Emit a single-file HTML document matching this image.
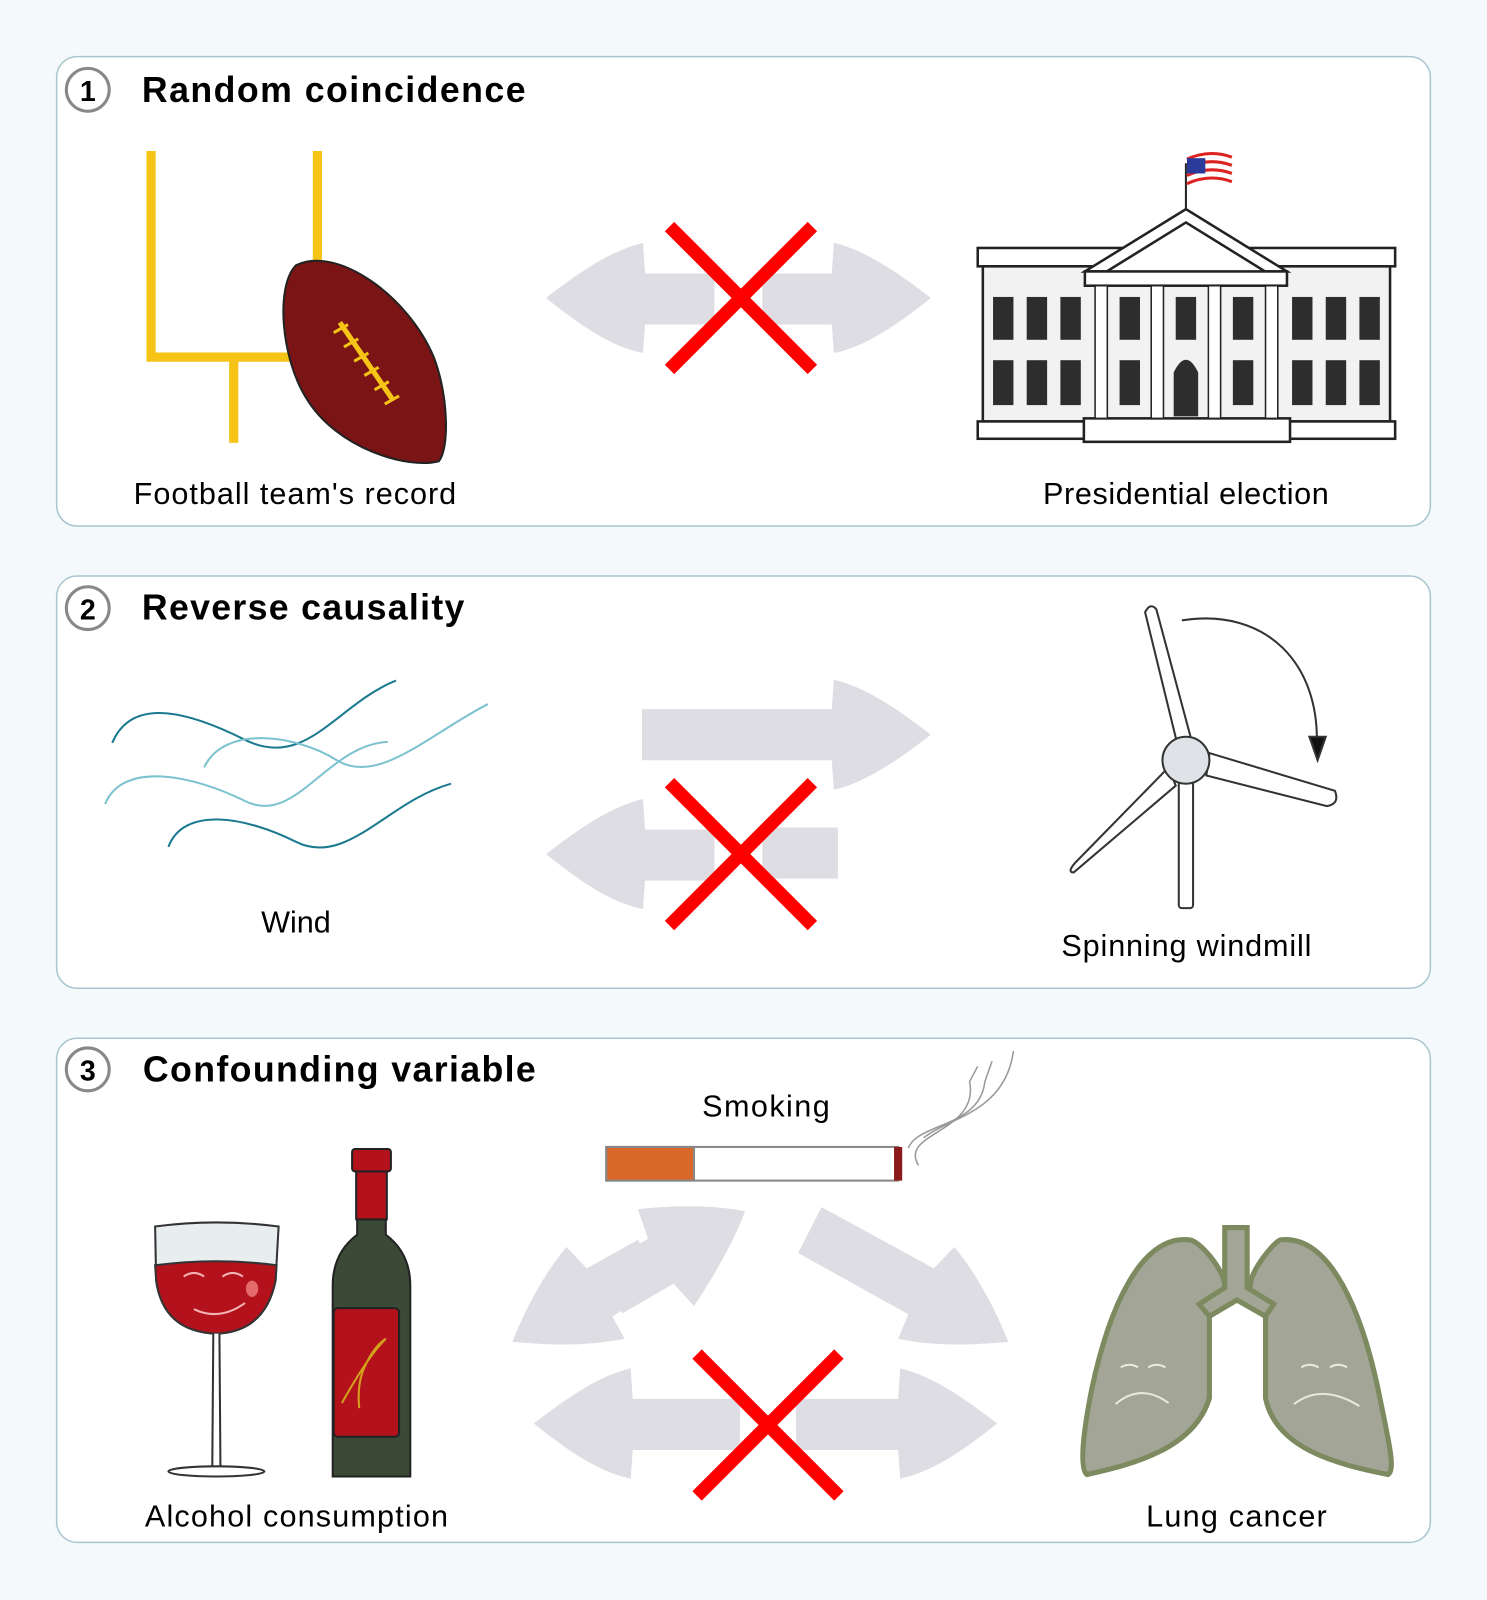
<!DOCTYPE html>
<html><head><meta charset="utf-8"><style>
html,body{margin:0;padding:0;background:#f4f9fc;}
svg{display:block;}
text{font-family:"Liberation Sans",sans-serif;}
</style></head><body>
<svg width="1487" height="1600" viewBox="0 0 1457 1568" preserveAspectRatio="none">
<rect x="0" y="0" width="1457" height="1568" fill="#f4f9fc"/>
<defs>
<g id="arrowL"><path d="M535,292 C570,265 600,245 630,238 L632,268 L700,268 L700,318 L632,318 L630,346 C600,340 570,320 535,292 Z" fill="#dedde3"/></g>
<g id="arrowR"><path d="M912,292 C877,265 847,245 817,238 L815,268 L747,268 L747,318 L815,318 L817,346 C847,340 877,320 912,292 Z" fill="#dedde3"/></g>
</defs>

<!-- Panel 1 -->
<g>
<rect x="55.5" y="55.5" width="1346" height="460" rx="20" fill="#fff" stroke="#a9c6cf" stroke-width="1.5"/>
<circle cx="86" cy="88" r="21" fill="none" stroke="#888" stroke-width="3"/>
<text x="86" y="99" font-size="28" font-weight="bold" text-anchor="middle">1</text>
<text x="139" y="100" font-size="35" font-weight="bold" textLength="376">Random coincidence</text>
<g stroke="#f6c417" stroke-width="9" fill="none">
<path d="M148,148 L148,350 L311,350 L311,148"/><path d="M229,350 L229,434"/></g>
<g>
<path d="M290,260 C330,240 400,290 425,350 C440,390 440,440 430,452 C400,460 330,440 300,390 C275,350 270,280 290,260 Z" fill="#7b1414" stroke="#222" stroke-width="2"/>
<path d="M333,316 L385,392" stroke="#f6c417" stroke-width="5"/>
<g stroke="#f6c417" stroke-width="3"><path d="M327,326 L341,318"/><path d="M337,340 L351,332"/><path d="M347,354 L361,346"/><path d="M357,368 L371,360"/><path d="M367,382 L381,374"/><path d="M377,396 L391,388"/></g></g>
<text x="131" y="494" font-size="30" textLength="316">Football team's record</text>
<g><use href="#arrowL"/><use href="#arrowR"/>
<path d="M656,222 L796,362 M796,222 L656,362" stroke="#f00" stroke-width="13"/></g>
<g stroke="#222" stroke-width="2.5">
<rect x="958" y="243" width="409" height="18" fill="#fff"/>
<rect x="963" y="261" width="399" height="152" fill="#f2f2f2"/>
<rect x="958" y="413" width="409" height="17" fill="#fff"/>
<rect x="1062" y="410" width="202" height="23" fill="#fff"/>
<path d="M1063,266 L1162,205 L1261,266 Z" fill="#fff"/>
<path d="M1078,270 L1162,218 L1246,270 Z" fill="#fff"/>
<rect x="1063" y="266" width="198" height="14" fill="#fff"/>
<path d="M1162,205 L1162,160" stroke-width="2"/>
<g fill="#2d2d2d" stroke="none">
<rect x="973" y="291" width="20" height="42"/><rect x="1006" y="291" width="20" height="42"/><rect x="1039" y="291" width="20" height="42"/>
<rect x="973" y="353" width="20" height="44"/><rect x="1006" y="353" width="20" height="44"/><rect x="1039" y="353" width="20" height="44"/>
<rect x="1097" y="291" width="20" height="42"/><rect x="1152" y="291" width="20" height="42"/><rect x="1208" y="291" width="20" height="42"/>
<rect x="1097" y="353" width="20" height="44"/><rect x="1208" y="353" width="20" height="44"/>
<path d="M1150,408 L1150,365 Q1162,340 1174,365 L1174,408 Z"/>
<rect x="1266" y="291" width="20" height="42"/><rect x="1299" y="291" width="20" height="42"/><rect x="1332" y="291" width="20" height="42"/>
<rect x="1266" y="353" width="20" height="44"/><rect x="1299" y="353" width="20" height="44"/><rect x="1332" y="353" width="20" height="44"/></g>
<g fill="#fff" stroke-width="1.5"><rect x="1073" y="280" width="12" height="130"/><rect x="1128" y="280" width="12" height="130"/><rect x="1184" y="280" width="12" height="130"/><rect x="1240" y="280" width="12" height="130"/></g>
<g stroke="none"><rect x="1163" y="150" width="44" height="32" fill="#fff"/>
<path d="M1163,156 Q1185,146 1207,154 M1163,164 Q1185,154 1207,162 M1163,172 Q1185,162 1207,170 M1163,180 Q1185,170 1207,178" stroke="#d22" stroke-width="3" fill="none"/>
<rect x="1163" y="155" width="18" height="15" fill="#2a3a9a"/></g></g>
<text x="1022" y="494" font-size="30" textLength="280">Presidential election</text>
</g>

<!-- Panel 2 -->
<g>
<rect x="55.5" y="564.5" width="1346" height="404" rx="20" fill="#fff" stroke="#a9c6cf" stroke-width="1.5"/>
<circle cx="86" cy="596" r="21" fill="none" stroke="#888" stroke-width="3"/>
<text x="86" y="607" font-size="28" font-weight="bold" text-anchor="middle">2</text>
<text x="139" y="607" font-size="35" font-weight="bold" textLength="316">Reverse causality</text>
<g fill="none" stroke-width="2">
<path d="M110,728 C130,680 190,700 240,725 C300,755 330,690 388,667" stroke="#1b7a90"/>
<path d="M200,752 C220,710 290,720 330,745 C370,770 420,720 478,690" stroke="#7cc2cf"/>
<path d="M103,788 C120,745 190,760 240,785 C290,810 320,730 380,727" stroke="#7cc2cf"/>
<path d="M165,830 C180,790 240,800 290,825 C340,850 380,785 442,768" stroke="#1b7a90"/></g>
<text x="290" y="914" font-size="30" text-anchor="middle">Wind</text>
<g>
<path d="M912,720 C877,693 847,673 817,666 L815,695 L629,695 L629,745 L815,745 L817,774 C847,767 877,747 912,720 Z" fill="#dedde3"/>
<use href="#arrowL" transform="translate(0,545)"/>
<path d="M747,811 L821,811 L821,861 L747,861 Z" fill="#dedde3"/>
<path d="M656,767 L796,907 M796,767 L656,907" stroke="#f00" stroke-width="13"/></g>
<g stroke="#333" stroke-width="2" fill="#fff">
<rect x="1155" y="760" width="14" height="130" rx="3"/>
<path d="M1155,735 L1122,600 Q1127,590 1133,597 L1170,735 Z"/>
<path d="M1185,738 L1308,775 Q1313,788 1300,790 L1182,760 Z"/>
<path d="M1145,752 L1054,845 Q1045,855 1052,855 L1152,770 Z"/>
<circle cx="1162" cy="745" r="23" fill="#dfe3e8"/>
<path d="M1158,608 C1240,595 1295,650 1290,735" fill="none"/>
<path d="M1283,722 L1291,745 L1299,722 Z" fill="#111"/></g>
<text x="1040" y="937" font-size="30" textLength="245">Spinning windmill</text>
</g>

<!-- Panel 3 -->
<g>
<rect x="55.5" y="1017.5" width="1346" height="494" rx="20" fill="#fff" stroke="#a9c6cf" stroke-width="1.5"/>
<circle cx="86" cy="1048" r="21" fill="none" stroke="#888" stroke-width="3"/>
<text x="86" y="1059" font-size="28" font-weight="bold" text-anchor="middle">3</text>
<text x="140" y="1060" font-size="35" font-weight="bold" textLength="385">Confounding variable</text>
<text x="688" y="1094" font-size="30" textLength="125">Smoking</text>
<g>
<rect x="594" y="1124" width="286" height="33" fill="#fff" stroke="#888" stroke-width="2"/>
<rect x="594" y="1124" width="86" height="33" fill="#d9672a" stroke="#888" stroke-width="2"/>
<rect x="876" y="1124" width="8" height="33" fill="#8b1a1a"/>
<g fill="none" stroke="#999" stroke-width="1.5"><path d="M900,1142 C880,1110 960,1110 950,1060 L958,1045"/><path d="M890,1125 C900,1100 960,1105 965,1060 L972,1040"/><path d="M905,1115 C930,1095 985,1090 993,1030"/></g></g>
<g>
<path d="M502,1315 C520,1270 540,1240 555,1222 L575,1243 L625,1215 L650,1260 L600,1290 L612,1312 C570,1320 540,1318 502,1315 Z" fill="#dedde3"/>
<path d="M625,1185 C670,1180 705,1182 730,1187 C720,1215 700,1250 680,1280 L660,1258 L610,1287 L585,1242 L635,1214 Z" fill="#dedde3"/>
<path d="M988,1315 C970,1270 950,1240 935,1222 L915,1243 L805,1183 L782,1228 L890,1288 L880,1312 C920,1320 950,1318 988,1315 Z" fill="#dedde3"/>
<use href="#arrowL" transform="translate(-12,1103)"/>
<use href="#arrowR" transform="translate(65,1103)"/>
<rect x="680" y="1371" width="45" height="50" fill="#dedde3"/>
<rect x="780" y="1371" width="35" height="50" fill="#dedde3"/>
<path d="M683,1327 L822,1466 M822,1327 L683,1466" stroke="#f00" stroke-width="13"/></g>
<g stroke="#333" stroke-width="2">
<path d="M152,1202 Q212,1194 273,1202 L270,1255 Q260,1305 212,1307 Q160,1305 153,1255 Z" fill="#e8eef0"/>
<path d="M152,1240 Q212,1232 271,1240 L270,1255 Q260,1305 212,1307 Q160,1305 153,1255 Z" fill="#b3121d"/>
<path d="M209,1307 L208,1438 L216,1438 L215,1307" fill="#fff"/>
<ellipse cx="212" cy="1442" rx="47" ry="5" fill="#fff"/>
<ellipse cx="247" cy="1263" rx="6" ry="8" fill="#e36b6b" stroke="none"/>
<path d="M180,1251 Q190,1244 200,1251 M218,1251 Q228,1244 238,1251 M190,1283 Q215,1295 240,1277" stroke="#f3b3b3" fill="none"/></g>
<g stroke="#222" stroke-width="2">
<path d="M350,1190 L350,1210 Q326,1228 326,1260 L326,1447 L402,1447 L402,1260 Q402,1228 378,1210 L378,1190 Z" fill="#3a4a37"/>
<rect x="349" y="1145" width="30" height="50" fill="#b3121d"/>
<rect x="345" y="1126" width="38" height="22" rx="3" fill="#b3121d"/>
<rect x="327" y="1282" width="64" height="126" rx="4" fill="#b3121d"/>
<path d="M335,1375 Q360,1330 378,1312 Q365,1320 355,1345 Q350,1360 352,1380" stroke="#d4a21a" fill="none"/></g>
<text x="142" y="1496" font-size="30" textLength="297">Alcohol consumption</text>
<g fill="#a3a596" stroke="#7d8a5f" stroke-width="5">
<path d="M1165,1215 C1115,1210 1085,1290 1070,1360 C1060,1410 1058,1440 1065,1445 C1110,1435 1170,1420 1185,1370 L1185,1290 C1195,1275 1200,1270 1200,1260 C1200,1245 1175,1215 1165,1215 Z"/>
<path d="M1255,1215 C1305,1210 1335,1290 1350,1360 C1360,1410 1368,1440 1360,1445 C1310,1435 1250,1420 1240,1370 L1240,1290 C1230,1275 1225,1270 1225,1260 C1225,1245 1250,1215 1255,1215 Z"/>
<path d="M1200,1262 L1200,1203 L1222,1203 L1222,1262 L1248,1278 L1240,1290 L1212,1274 L1185,1290 L1175,1278 Z"/>
<g fill="none" stroke="#e7eadb" stroke-width="2"><path d="M1098,1340 Q1107,1335 1115,1340 M1125,1340 Q1133,1335 1142,1340 M1093,1376 Q1118,1355 1145,1375"/><path d="M1275,1340 Q1283,1335 1292,1340 M1303,1340 Q1311,1335 1320,1340 M1268,1376 Q1295,1355 1332,1378"/></g></g>
<text x="1123" y="1496" font-size="30" textLength="177">Lung cancer</text>
</g>
</svg>
</body></html>
